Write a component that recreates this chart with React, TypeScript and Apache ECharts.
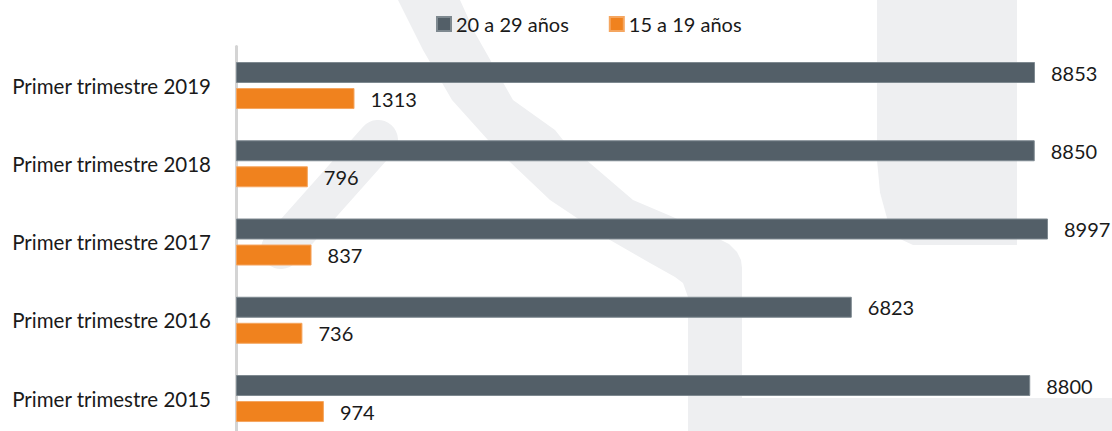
import React, { useEffect, useRef } from "react";
import * as echarts from "echarts";

const categories = [
  "Primer trimestre 2015",
  "Primer trimestre 2016",
  "Primer trimestre 2017",
  "Primer trimestre 2018",
  "Primer trimestre 2019",
];
const seriesNames = ["20 a 29 años", "15 a 19 años"];
const age20to29 = [8800, 6823, 8997, 8850, 8853];
const age15to19 = [974, 736, 837, 796, 1313];

const GRAY = "#535f68";
const ORANGE = "#f0821e";
const WM = "#eeeff1";
const FONT = "Lato";

export default function App() {
  const ref = useRef<HTMLDivElement>(null);
  useEffect(() => {
    if (!ref.current) return;
    const chart = echarts.init(ref.current, undefined, { renderer: "svg" });
    const label = {
      show: true,
      position: "right",
      distance: 16,
      color: "#1a1a1a",
      fontSize: 20,
      fontFamily: FONT,
    };
    chart.setOption({
      animation: false,
      backgroundColor: "#ffffff",
      textStyle: { fontFamily: FONT },
      graphic: [
        {
          type: "polygon",
          z: -1,
          silent: true,
          shape: {
            points: [
              [398, 0], [423, 50], [452, 100], [488, 140], [510, 162], [550, 200],
              [610, 240], [650, 263], [675, 277], [683, 283], [688, 297], [688, 440],
              [742, 440], [742, 268], [741, 260], [737, 252], [729, 244], [717, 238],
              [673, 217], [633, 200], [563, 140], [555, 130], [513, 100], [475, 33], [460, 0],
            ],
          },
          style: { fill: WM },
        },
        {
          type: "line",
          z: -1,
          silent: true,
          shape: { x1: 378, y1: 140, x2: 281, y2: 249 },
          style: { stroke: WM, lineWidth: 40, lineCap: "round" },
        },
        {
          type: "polygon",
          z: -1,
          silent: true,
          shape: {
            points: [
              [877, 0], [1017, 0], [1017, 245], [913, 245], [899, 238.5],
              [887.5, 220], [880, 192.5], [877, 160],
            ],
          },
          style: { fill: WM },
        },
        {
          type: "rect",
          z: -1,
          silent: true,
          shape: { x: 742, y: 398, width: 370, height: 42 },
          style: { fill: WM },
        },
      ],
      legend: {
        data: seriesNames,
        left: 431,
        top: 9,
        itemWidth: 14,
        itemHeight: 14,
        itemGap: 40,
        icon: "rect",
        textStyle: { fontSize: 20, color: "#1a1a1a", fontFamily: FONT },
      },
      grid: { left: 236, top: 46.4, width: 857.4, height: 391.25, containLabel: false },
      xAxis: {
        type: "value",
        min: 0,
        max: 9500,
        show: false,
      },
      yAxis: {
        type: "category",
        data: categories,
        axisLine: { show: true, lineStyle: { color: "#d4d4d4", width: 3 } },
        axisTick: { show: false },
        axisLabel: { color: "#1a1a1a", fontSize: 20.5, fontFamily: FONT, margin: 25 },
        splitLine: { show: false },
      },
      series: [
        {
          name: seriesNames[0],
          type: "bar",
          data: age20to29,
          barWidth: 21,
          barGap: "24%",
          itemStyle: { color: GRAY, borderColor: "#7e8990", borderWidth: 1 },
          label,
        },
        {
          name: seriesNames[1],
          type: "bar",
          data: age15to19,
          barWidth: 21,
          barGap: "24%",
          itemStyle: { color: ORANGE, borderColor: "#f5a660", borderWidth: 1 },
          label,
        },
      ],
    });
    return () => chart.dispose();
  }, []);
  return (
    <div
      ref={ref}
      style={{ position: "fixed", left: 0, top: 0, width: 1112, height: 440 }}
    />
  );
}
